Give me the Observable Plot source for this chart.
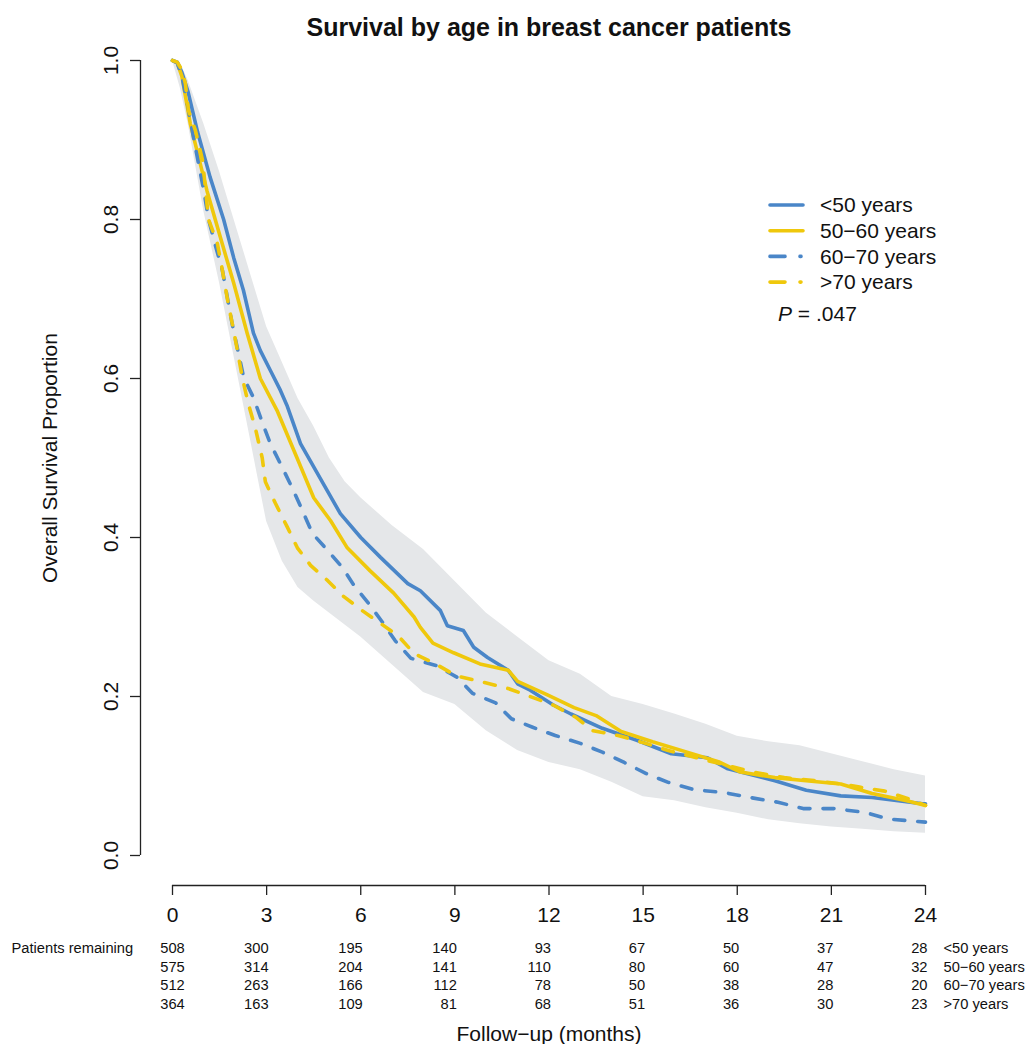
<!DOCTYPE html>
<html><head><meta charset="utf-8">
<script src="https://cdn.jsdelivr.net/npm/d3@7"></script>
<script src="https://cdn.jsdelivr.net/npm/@observablehq/plot@0.6"></script>
<style>
body{margin:0;background:#fff;}
#wrap{position:relative;width:1027px;height:1044px;font-family:"Liberation Sans",Arial,Helvetica,sans-serif;}
#wrap svg{overflow:visible;}
</style></head><body><div id="wrap"></div>
<script>
// ---- data ----
const chartTitle = "Survival by age in breast cancer patients";
const yLabel = "Overall Survival Proportion";
const xLabel = "Follow\u2212up (months)";
const groups = ["<50 years", "50\u221260 years", "60\u221270 years", ">70 years"];
const groupColors = ["#4a86c8", "#efc80c", "#4a86c8", "#efc80c"];
const groupDashed = [false, false, true, true];
const pValueText = ".047";

const months_lt50 = [0,0.15,0.3,0.5,0.8,1.2,1.63,1.95,2.26,2.58,2.8,3.12,3.44,3.66,4.08,4.8,5.35,6.0,6.63,7.5,7.9,8.54,8.76,9.27,9.6,10.04,10.7,11.0,11.4,12.15,12.7,13.7,14.8,15.9,17.05,17.7,19.2,20.2,21.3,22.3,23.9,24];
const surv_lt50   = [1,0.998,0.985,0.96,0.91,0.853,0.80,0.752,0.711,0.657,0.635,0.61,0.585,0.565,0.518,0.468,0.43,0.40,0.375,0.342,0.333,0.308,0.289,0.283,0.262,0.249,0.233,0.216,0.208,0.189,0.178,0.16,0.145,0.128,0.123,0.109,0.094,0.082,0.075,0.073,0.065,0.065];

const months_50_60 = [0,0.15,0.3,0.57,1.1,1.53,1.95,2.38,2.8,3.33,3.97,4.5,5.04,5.57,6.3,7.05,7.7,7.9,8.3,8.96,9.8,10.7,11.0,11.95,12.8,13.5,14.3,15.3,16.4,17.4,18.1,19.2,20.2,21.3,22.3,23.4,24];
const surv_50_60   = [1,0.997,0.98,0.92,0.836,0.777,0.72,0.657,0.60,0.56,0.50,0.45,0.421,0.387,0.358,0.33,0.30,0.287,0.267,0.255,0.241,0.233,0.219,0.202,0.186,0.176,0.156,0.143,0.13,0.118,0.105,0.098,0.094,0.09,0.078,0.069,0.063];

const months_60_70 = [0,0.15,0.3,0.5,0.67,0.83,1.0,1.15,1.37,1.59,1.9,2.27,2.58,2.86,3.12,3.5,3.82,4.14,4.46,4.94,5.42,5.78,6.25,6.7,7.1,7.6,8.4,9.08,9.56,10.3,10.8,11.5,12.2,13.0,13.7,14.4,15.1,15.8,16.6,17.6,18.4,19.3,20.1,21.1,22.1,22.8,24];
const surv_60_70   = [1,0.997,0.98,0.94,0.903,0.87,0.836,0.80,0.767,0.736,0.669,0.601,0.576,0.545,0.518,0.488,0.462,0.434,0.405,0.384,0.362,0.34,0.317,0.293,0.27,0.248,0.239,0.224,0.204,0.192,0.172,0.161,0.151,0.141,0.13,0.117,0.103,0.092,0.083,0.079,0.073,0.067,0.059,0.059,0.054,0.046,0.042];

const months_gt70 = [0,0.15,0.3,0.41,0.51,0.73,0.96,1.15,1.43,1.59,1.75,1.91,2.07,2.23,2.42,2.65,2.86,2.96,3.28,3.66,3.98,4.4,4.94,5.45,6.05,6.63,7.2,7.7,8.38,9.05,9.9,10.7,11.4,12.15,12.85,13.4,14.2,15.0,15.8,16.7,17.5,18.5,19.5,20.5,21.3,21.9,22.7,23.4,24];
const surv_gt70   = [1,0.998,0.988,0.971,0.937,0.912,0.874,0.80,0.77,0.736,0.70,0.668,0.635,0.60,0.568,0.536,0.50,0.47,0.443,0.413,0.387,0.365,0.346,0.326,0.308,0.292,0.276,0.254,0.241,0.226,0.218,0.21,0.2,0.189,0.174,0.157,0.151,0.142,0.132,0.123,0.115,0.105,0.098,0.094,0.09,0.086,0.081,0.072,0.063];

const bandMonths = [0,0.25,0.5,1,1.5,2,2.5,3,3.5,4,4.5,5,5.5,6,7,8,9,10,11,12,13,14,15,16,17,18,19,20,21,22,23,24];
const bandUpper  = [1,0.997,0.975,0.92,0.86,0.795,0.73,0.665,0.62,0.575,0.54,0.50,0.47,0.45,0.415,0.385,0.345,0.305,0.275,0.245,0.228,0.20,0.19,0.178,0.165,0.15,0.143,0.138,0.128,0.118,0.108,0.10];
const bandLower  = [1,0.965,0.92,0.81,0.72,0.62,0.52,0.42,0.37,0.337,0.32,0.305,0.29,0.275,0.24,0.205,0.19,0.157,0.132,0.117,0.108,0.092,0.074,0.069,0.06,0.053,0.045,0.04,0.036,0.033,0.03,0.028];

const xTicks = [0,3,6,9,12,15,18,21,24];
const yTicks = [0,0.2,0.4,0.6,0.8,1.0];
const riskLabel = "Patients remaining";
const risk_lt50  = [508,300,195,140,93,67,50,37,28];
const risk_50_60 = [575,314,204,141,110,80,60,47,32];
const risk_60_70 = [512,263,166,112,78,50,38,28,20];
const risk_gt70  = [364,163,109,81,68,51,36,30,23];

// ---- build tables ----
const seriesMonths = [months_lt50, months_50_60, months_60_70, months_gt70];
const seriesSurv = [surv_lt50, surv_50_60, surv_60_70, surv_gt70];
const riskRows = [risk_lt50, risk_50_60, risk_60_70, risk_gt70];
const band = bandMonths.map((m, i) => ({month: m, lo: bandLower[i], hi: bandUpper[i]}));

const FONT = "Liberation Sans, Arial, Helvetica, sans-serif";
const marks = [];
marks.push(Plot.areaY(band, {x: "month", y1: "lo", y2: "hi", fill: "#e5e7e9"}));
groups.forEach((g, gi) => {
  const rows = seriesMonths[gi].map((m, i) => ({month: m, surv: seriesSurv[gi][i]}));
  marks.push(Plot.line(rows, {x: "month", y: "surv", stroke: groupColors[gi], strokeWidth: 3.6,
    strokeLinecap: "round", strokeLinejoin: "round",
    strokeDasharray: groupDashed[gi] ? "11,13" : null}));
});
// axes
marks.push(Plot.ruleY([0], {dy: 30, stroke: "#222", strokeWidth: 1.3}));
marks.push(Plot.ruleX([0], {dx: -32, stroke: "#222", strokeWidth: 1.3}));
marks.push(Plot.axisX({ticks: xTicks, tickSize: 10, tickPadding: 12, dy: 30, fontSize: 21, label: null, stroke: "#222", strokeWidth: 1.3, tickFormat: d => String(d), fill: "#111"}));
marks.push(Plot.axisY({ticks: yTicks, tickSize: 10, tickPadding: 13, dx: -32, tickRotate: -90, fontSize: 21, label: null, stroke: "#222", strokeWidth: 1.3, tickFormat: d3.format(".1f"), fill: "#111"}));
// titles
marks.push(Plot.text([chartTitle], {frameAnchor: "top", lineAnchor: "middle", dy: -33, fontSize: 25, fontWeight: "bold", fill: "#111"}));
marks.push(Plot.text([yLabel], {frameAnchor: "left", textAnchor: "middle", lineAnchor: "middle", dx: -122, rotate: -90, fontSize: 21, fill: "#111"}));
marks.push(Plot.text([xLabel], {frameAnchor: "bottom", lineAnchor: "middle", dy: 179, fontSize: 21, fill: "#111"}));
// risk table
const rowDy = [93, 112, 130, 149];
const TF = 14.7;
marks.push(Plot.text([riskLabel], {frameAnchor: "bottom-left", lineAnchor: "middle", dx: -161, dy: rowDy[0], textAnchor: "start", fontSize: TF, fill: "#111"}));
riskRows.forEach((counts, ri) => {
  const cells = xTicks.map((m, i) => ({month: m, n: counts[i]}));
  marks.push(Plot.text(cells.slice(0, 1), {x: "month", text: d => String(d.n), frameAnchor: "bottom", lineAnchor: "middle", dy: rowDy[ri], fontSize: TF, fill: "#111"}));
  marks.push(Plot.text(cells.slice(1), {x: "month", text: d => String(d.n), frameAnchor: "bottom", lineAnchor: "middle", dy: rowDy[ri], dx: 2, textAnchor: "end", fontSize: TF, fill: "#111"}));
  marks.push(Plot.text([groups[ri]], {frameAnchor: "bottom-right", lineAnchor: "middle", dx: 18, dy: rowDy[ri], textAnchor: "start", fontSize: TF, fill: "#111"}));
});

const chart = Plot.plot({
  width: 1027, height: 1044,
  marginTop: 60, marginRight: 102, marginBottom: 189, marginLeft: 172,
  style: {fontFamily: FONT, background: "#fff", overflow: "visible"},
  x: {domain: [0, 24]},
  y: {domain: [0, 1]},
  marks
});
const wrap = document.getElementById("wrap");
wrap.appendChild(chart);

// legend overlay
const leg = d3.select(wrap).append("svg")
  .attr("width", 230).attr("height", 150)
  .style("position", "absolute").style("left", "760px").style("top", "185px")
  .style("font-family", FONT);
groups.forEach((g, i) => {
  const y = 20 + i * 25.7;
  leg.append("line").attr("x1", 10).attr("x2", groupDashed[i] ? 41 : 43).attr("y1", y).attr("y2", y)
    .attr("stroke", groupColors[i]).attr("stroke-width", 3.6).attr("stroke-linecap", "round")
    .attr("stroke-dasharray", groupDashed[i] ? "15,15" : null);
  leg.append("text").attr("x", 60).attr("y", y).attr("dy", "0.35em").attr("font-size", 21).attr("fill", "#111").text(g);
});
const pt = leg.append("text").attr("x", 18).attr("y", 129).attr("dy", "0.35em").attr("font-size", 21).attr("fill", "#111");
pt.append("tspan").attr("font-style", "italic").text("P");
pt.append("tspan").text(" = " + pValueText);
</script></body></html>
